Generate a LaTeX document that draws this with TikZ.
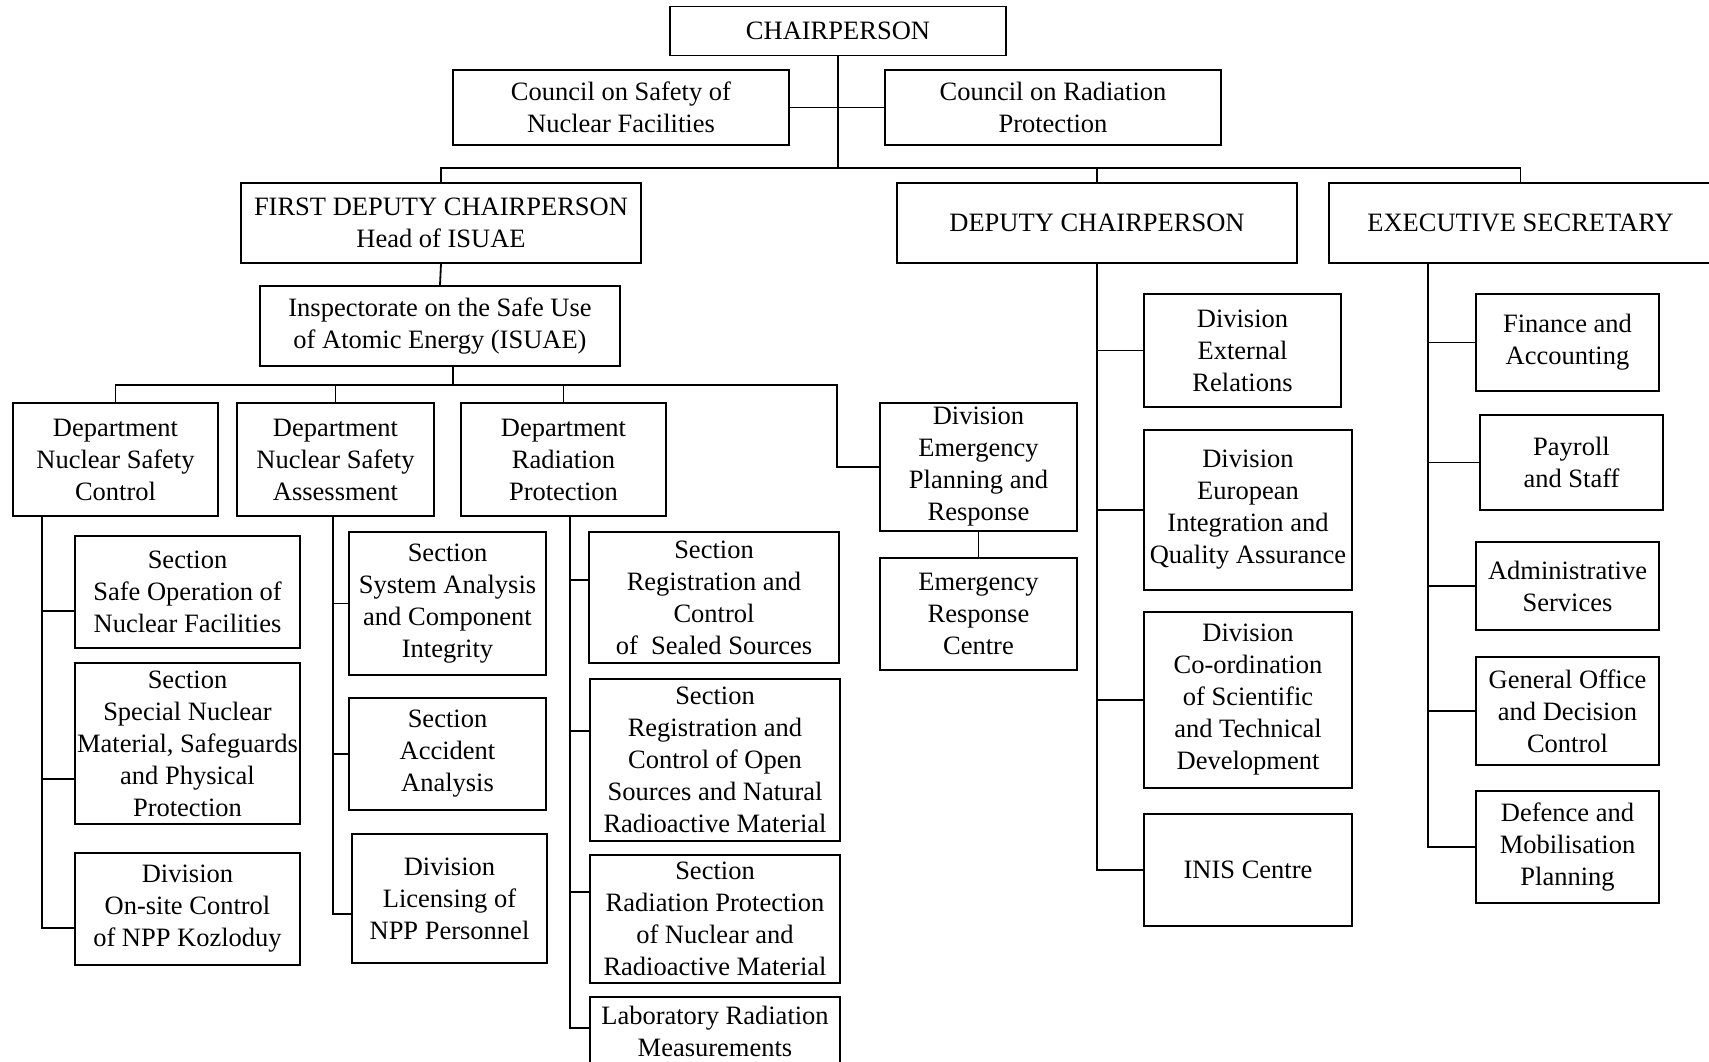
\documentclass[tikz,border=0pt]{standalone}
\usepackage{fontspec}
\setmainfont{Liberation Serif}
\begin{document}
\begin{tikzpicture}[x=1pt,y=-1pt,line width=1.8pt,
  box/.style 2 args={draw, line width=1.8pt, inner sep=0pt, align=center,
    font=\fontsize{26.5}{32}\selectfont, minimum width=#1pt, minimum height=#2pt}]
\useasboundingbox (0,0) rectangle (1709,1061);
% top
\node[box={336}{49}] (chair) at (838,31) {CHAIRPERSON};
\node[box={336}{75}] (csnf) at (621,107.5) {Council on Safety of\\Nuclear Facilities};
\node[box={336}{75}] (crp) at (1053,107.5) {Council on Radiation\\Protection};
\node[box={400}{80}] (fdc) at (441,223) {FIRST DEPUTY CHAIRPERSON\\Head of ISUAE};
\node[box={400}{80}] (dep) at (1097,223) {DEPUTY CHAIRPERSON};
\node[box={383}{80}] (exec) at (1520.5,223) {EXECUTIVE SECRETARY};
\node[box={360}{80}] (isuae) at (440,326) {Inspectorate on the Safe Use\\of Atomic Energy (ISUAE)};
% departments
\node[box={205}{113}] (nsc) at (115.5,459.5) {Department\\Nuclear Safety\\Control};
\node[box={197}{113}] (nsa) at (335.5,459.5) {Department\\Nuclear Safety\\Assessment};
\node[box={205}{113}] (rp) at (563.5,459.5) {Department\\Radiation\\Protection};
\node[box={197}{128}] (ep) at (978.5,467) {Division\\Emergency\\Planning and\\Response};
\node[box={197}{112}] (erc) at (978.5,614) {Emergency\\Response\\Centre};
% deputy
\node[box={197}{113}] (er) at (1242.5,350.5) {Division\\External\\Relations};
\node[box={208}{160}] (eiqa) at (1248,510) {Division\\European\\Integration and\\Quality Assurance};
\node[box={208}{176}] (cstd) at (1248,700) {Division\\Co-ordination\\of Scientific\\and Technical\\Development};
\node[box={208}{112}] (inis) at (1248,870) {INIS Centre};
% executive
\node[box={183}{97}] (fin) at (1567.5,342.5) {Finance and\\Accounting};
\node[box={183}{95}] (pay) at (1571.5,462.5) {Payroll\\and Staff};
\node[box={183}{88}] (adm) at (1567.5,586) {Administrative\\Services};
\node[box={183}{108}] (gen) at (1567.5,711) {General Office\\and Decision\\Control};
\node[box={183}{112}] (def) at (1567.5,847) {Defence and\\Mobilisation\\Planning};
% NSC sections
\node[box={225}{112}] (sso) at (187.5,592) {Section\\Safe Operation of\\Nuclear Facilities};
\node[box={225}{161}] (ssn) at (187.5,743.5) {Section\\Special Nuclear\\Material, Safeguards\\and Physical\\Protection};
\node[box={225}{112}] (dos) at (187.5,909) {Division\\On-site Control\\of NPP Kozloduy};
% NSA sections
\node[box={197}{143}] (ssa) at (447.5,603.5) {Section\\System Analysis\\and Component\\Integrity};
\node[box={197}{112}] (saa) at (447.5,754) {Section\\Accident\\Analysis};
\node[box={195}{129}] (dln) at (449.5,898.5) {Division\\Licensing of\\NPP Personnel};
% RP sections
\node[box={250}{131}] (srs) at (714,597.5) {Section\\Registration and\\Control\\of\ \ Sealed Sources};
\node[box={250}{162}] (sro) at (715,760) {Section\\Registration and\\Control of Open\\Sources and Natural\\Radioactive Material};
\node[box={250}{128}] (srp) at (715,919) {Section\\Radiation Protection\\of Nuclear and\\Radioactive Material};
\node[box={250}{68}] (lab) at (715,1031) {Laboratory Radiation\\Measurements};
% connectors top
\coordinate (b1) at (838,168);
\draw (chair.south) -- (b1);
\draw (csnf.east) -- (crp.west);
\draw (fdc.north) |- (exec.north |- b1) -- (exec.north);
\draw (dep.north) -- (dep.north |- b1);
\draw (fdc.south) -- (isuae.north);
\coordinate (b2) at (453,385);
\draw (b2 |- isuae.south) -- (b2);
\coordinate (b3) at (837,385);
\draw (nsc.north) |- (b3) |- (ep.west);
\draw (nsa.north) -- (nsa.north |- b3);
\draw (rp.north) -- (rp.north |- b3);
\draw (ep.south) -- (erc.north);
% trunk columns
\coordinate (t1) at (42,0);
\coordinate (t2) at (333,0);
\coordinate (t3) at (570,0);
\coordinate (t5) at (1428,0);
\path ([yshift=-19pt]sso.west) coordinate (c11)
      ([yshift=-35.5pt]ssn.west) coordinate (c12)
      ([yshift=-19pt]dos.west) coordinate (c13)
      (ssa.west) coordinate (c21)
      (saa.west) coordinate (c22)
      ([yshift=-15.5pt]dln.west) coordinate (c23)
      ([yshift=17.5pt]srs.west) coordinate (c31)
      ([yshift=29pt]sro.west) coordinate (c32)
      ([yshift=27pt]srp.west) coordinate (c33)
      ([yshift=3pt]lab.west) coordinate (c34);
\draw (t1 |- nsc.south) |- (c13);
\draw (t1 |- c11) -- (c11);
\draw (t1 |- c12) -- (c12);
\draw (t2 |- nsa.south) |- (c23);
\draw (t2 |- c21) -- (c21);
\draw (t2 |- c22) -- (c22);
\draw (t3 |- rp.south) |- (c34);
\draw (t3 |- c31) -- (c31);
\draw (t3 |- c32) -- (c32);
\draw (t3 |- c33) -- (c33);
\draw (dep.south) |- (inis.west);
\draw (dep.south |- er.west) -- (er.west);
\draw (dep.south |- eiqa.west) -- (eiqa.west);
\draw (dep.south |- cstd.west) -- (cstd.west);
\draw (t5 |- exec.south) |- (def.west);
\draw (t5 |- fin.west) -- (fin.west);
\draw (t5 |- pay.west) -- (pay.west);
\draw (t5 |- adm.west) -- (adm.west);
\draw (t5 |- gen.west) -- (gen.west);
\end{tikzpicture}
\end{document}
